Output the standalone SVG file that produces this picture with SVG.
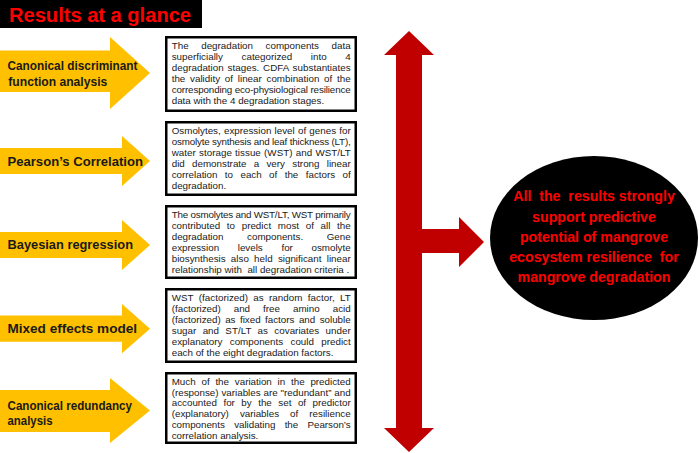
<svg xmlns="http://www.w3.org/2000/svg" width="699" height="453" viewBox="0 0 699 453">
<style>
.box{fill:#fff;stroke:#000;stroke-width:2.5}
.bt{font-family:"Liberation Sans",Arial,sans-serif;font-size:9.8px;fill:#1a1a1a}
.yel{fill:#FFC000}
.lbl{font-family:"Liberation Sans",Arial,sans-serif;font-weight:bold;fill:#1a1a1a}
.red{fill:#C00000}
.et{font-family:"Liberation Sans",Arial,sans-serif;font-weight:bold;font-size:14.2px;fill:#FF0000;text-anchor:middle;white-space:pre}
</style>
<rect width="699" height="453" fill="#fff"/>
<g id="title">
<rect x="0" y="0" width="202" height="28" fill="#000"/>
<text x="9" y="21.5" font-family="Liberation Sans, Arial, sans-serif" font-weight="bold" font-size="20" fill="#FF0000" textLength="182" lengthAdjust="spacingAndGlyphs">Results at a glance</text>
</g>
<g id="method-cdfa">
<polygon class="yel" points="0,50.5 110,50.5 110,37 150,73 110,109 110,92 0,92"/>
<text class="lbl" font-size="12" x="7.5" y="70" textLength="130" lengthAdjust="spacingAndGlyphs">Canonical discriminant</text>
<text class="lbl" font-size="12" x="8.3" y="86" textLength="99" lengthAdjust="spacingAndGlyphs">function analysis</text>
</g>
<g id="method-pearson">
<polygon class="yel" points="0,148 122,148 122,136 150,161 122,186 122,174 0,174"/>
<text class="lbl" font-size="13" x="7.5" y="165.5" textLength="135.5" lengthAdjust="spacingAndGlyphs">Pearson’s Correlation</text>
</g>
<g id="method-bayes">
<polygon class="yel" points="0,232 122,232 122,220 150,245 122,270 122,258 0,258"/>
<text class="lbl" font-size="13" x="7.5" y="248.5" textLength="125.5" lengthAdjust="spacingAndGlyphs">Bayesian regression</text>
</g>
<g id="method-mixed">
<polygon class="yel" points="0,315.5 122,315.5 122,304 150,328.7 122,353.3 122,341.7 0,341.7"/>
<text class="lbl" font-size="13" x="7.5" y="333" textLength="129.5" lengthAdjust="spacingAndGlyphs">Mixed effects model</text>
</g>
<g id="method-cra">
<polygon class="yel" points="0,390 110,390 110,378 150,410.5 110,443 110,432 0,432"/>
<text class="lbl" font-size="12" x="7.5" y="409.5" textLength="124.5" lengthAdjust="spacingAndGlyphs">Canonical redundancy</text>
<text class="lbl" font-size="12" x="7.5" y="424.5" textLength="45" lengthAdjust="spacingAndGlyphs">analysis</text>
</g>
<g id="result-cdfa">
<rect class="box" x="166.25" y="37.25" width="189.5" height="73.5"/>
<text class="bt" x="171.7" y="49.3" style="word-spacing:9.9px" textLength="179" lengthAdjust="spacing">The degradation components data</text>
<text class="bt" x="171.7" y="60.2" style="word-spacing:15.9px" textLength="179" lengthAdjust="spacing">superficially categorized into 4</text>
<text class="bt" x="171.7" y="71.1" style="word-spacing:1.01px" textLength="179" lengthAdjust="spacing">degradation stages. CDFA substantiates</text>
<text class="bt" x="171.7" y="82" style="word-spacing:2.06px" textLength="179" lengthAdjust="spacing">the validity of linear combination of the</text>
<text class="bt" x="171.7" y="92.9" textLength="179" lengthAdjust="spacing">corresponding eco-physiological resilience</text>
<text class="bt" x="171.7" y="103.8">data with the 4 degradation stages.</text>
</g>
<g id="result-pearson">
<rect class="box" x="166.25" y="122.25" width="189.5" height="72.5"/>
<text class="bt" x="171.7" y="134.3" style="word-spacing:0.51px" textLength="179" lengthAdjust="spacing">Osmolytes, expression level of genes for</text>
<text class="bt" x="171.7" y="145.2" textLength="179" lengthAdjust="spacing">osmolyte synthesis and leaf thickness (LT),</text>
<text class="bt" x="171.7" y="156.1" style="word-spacing:0.51px" textLength="179" lengthAdjust="spacing">water storage tissue (WST) and WST/LT</text>
<text class="bt" x="171.7" y="167" style="word-spacing:4.54px" textLength="179" lengthAdjust="spacing">did demonstrate a very strong linear</text>
<text class="bt" x="171.7" y="177.9" style="word-spacing:4.69px" textLength="179" lengthAdjust="spacing">correlation to each of the factors of</text>
<text class="bt" x="171.7" y="188.8">degradation.</text>
</g>
<g id="result-bayes">
<rect class="box" x="166.25" y="206.25" width="189.5" height="71.5"/>
<text class="bt" x="171.7" y="218.3" textLength="179" lengthAdjust="spacing">The osmolytes and WST/LT, WST primarily</text>
<text class="bt" x="171.7" y="229.2" style="word-spacing:3.96px" textLength="179" lengthAdjust="spacing">contributed to predict most of all the</text>
<text class="bt" x="171.7" y="240.1" style="word-spacing:20.88px" textLength="179" lengthAdjust="spacing">degradation components. Gene</text>
<text class="bt" x="171.7" y="251" style="word-spacing:15.91px" textLength="179" lengthAdjust="spacing">expression levels for osmolyte</text>
<text class="bt" x="171.7" y="261.9" style="word-spacing:2.55px" textLength="179" lengthAdjust="spacing">biosynthesis also held significant linear</text>
<text class="bt" x="171.7" y="272.8" style="white-space:pre">relationship with  all degradation criteria .</text>
</g>
<g id="result-mixed">
<rect class="box" x="166.25" y="289.25" width="189.5" height="72.5"/>
<text class="bt" x="171.7" y="301.3" style="word-spacing:2.48px" textLength="179" lengthAdjust="spacing">WST (factorized) as random factor, LT</text>
<text class="bt" x="171.7" y="312.2" style="word-spacing:10.3px" textLength="179" lengthAdjust="spacing">(factorized) and free amino acid</text>
<text class="bt" x="171.7" y="323.1" style="word-spacing:1.7px" textLength="179" lengthAdjust="spacing">(factorized) as fixed factors and soluble</text>
<text class="bt" x="171.7" y="334" style="word-spacing:3.55px" textLength="179" lengthAdjust="spacing">sugar and ST/LT as covariates under</text>
<text class="bt" x="171.7" y="344.9" style="word-spacing:4.65px" textLength="179" lengthAdjust="spacing">explanatory components could predict</text>
<text class="bt" x="171.7" y="355.8">each of the eight degradation factors.</text>
</g>
<g id="result-cra">
<rect class="box" x="166.25" y="373.25" width="189.5" height="69.5"/>
<text class="bt" x="171.7" y="384.6" style="word-spacing:3.05px" textLength="179" lengthAdjust="spacing">Much of the variation in the predicted</text>
<text class="bt" x="171.7" y="395.5" style="word-spacing:0.18px" textLength="179" lengthAdjust="spacing">(response) variables are "redundant” and</text>
<text class="bt" x="171.7" y="406.4" style="word-spacing:3.78px" textLength="179" lengthAdjust="spacing">accounted for by the set of predictor</text>
<text class="bt" x="171.7" y="417.3" style="word-spacing:8.3px" textLength="179" lengthAdjust="spacing">(explanatory) variables of resilience</text>
<text class="bt" x="171.7" y="428.2" style="word-spacing:6.61px" textLength="179" lengthAdjust="spacing">components validating the Pearson’s</text>
<text class="bt" x="171.7" y="439.1">correlation analysis.</text>
</g>
<g id="connectors">
<polygon class="red" points="409,31 434,55 422,55 422,229 459,229 459,217 484,242 459,267 459,253 422,253 422,428 434,428 409,452 384,428 396,428 396,55 384,55"/>
</g>
<g id="conclusion">
<ellipse cx="594" cy="238" rx="104" ry="82" fill="#000"/>
<text class="et" x="594" y="201">All  the  results strongly</text>
<text class="et" x="594" y="221.5">support predictive</text>
<text class="et" x="594" y="242">potential of mangrove</text>
<text class="et" x="594" y="262">ecosystem resilience  for</text>
<text class="et" x="594" y="282">mangrove degradation</text>
</g>
</svg>
